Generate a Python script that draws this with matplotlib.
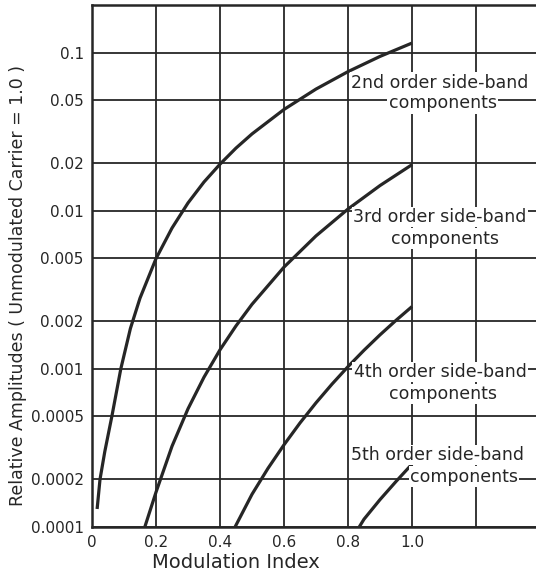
from matplotlib import pyplot as plt
from matplotlib.ticker import NullLocator

# values (modulation index, relative amplitude)
m2 = [0.016, 0.025, 0.04, 0.062, 0.09, 0.12, 0.15, 0.2, 0.25, 0.3, 0.35, 0.4,
      0.45, 0.5, 0.6, 0.7, 0.8, 0.9, 1.0]
a2 = [1.3e-4, 2.0e-4, 3.0e-4, 5.0e-4, 1.0e-3, 1.8e-3, 2.8e-3, 4.98e-3, 7.77e-3,
      0.0112, 0.0152, 0.0197, 0.0249, 0.0306, 0.0437, 0.0588, 0.0758, 0.0946, 0.1149]

m3 = [0.165, 0.2, 0.25, 0.3, 0.35, 0.4, 0.45, 0.5, 0.6, 0.7, 0.8, 0.9, 1.0]
a3 = [1.0e-4, 1.66e-4, 3.24e-4, 5.59e-4, 8.86e-4, 1.32e-3, 1.87e-3, 2.56e-3,
      4.40e-3, 6.93e-3, 0.01025, 0.01443, 0.01956]

m4 = [0.447, 0.5, 0.55, 0.6, 0.65, 0.7, 0.75, 0.8, 0.85, 0.9, 0.95, 1.0]
a4 = [1.0e-4, 1.61e-4, 2.35e-4, 3.31e-4, 4.55e-4, 6.10e-4, 8.01e-4, 1.033e-3,
      1.311e-3, 1.641e-3, 2.027e-3, 2.477e-3]

m5 = [0.835, 0.85, 0.9, 0.95, 1.0]
a5 = [1.0e-4, 1.12e-4, 1.49e-4, 1.94e-4, 2.50e-4]

xticks = [0, 0.2, 0.4, 0.6, 0.8, 1.0, 1.2]
xlabels = ['0', '0.2', '0.4', '0.6', '0.8', '1.0', '']
yticks = [0.0001, 0.0002, 0.0005, 0.001, 0.002, 0.005, 0.01, 0.02, 0.05, 0.1]
ylabels = ['0.0001', '0.0002', '0.0005', '0.001', '0.002', '0.005',
           '0.01', '0.02', '0.05', '0.1']

ink = '#262626'

fig = plt.figure(figsize=(5.36, 5.74), dpi=100)
ax = fig.add_axes([92 / 536, 47 / 574, 444 / 536, 522 / 574])

for m, a in [(m2, a2), (m3, a3), (m4, a4), (m5, a5)]:
    ax.plot(m, a, color=ink, lw=2.3, zorder=3, solid_capstyle='butt')

ax.set_yscale('log')
ax.set_xlim(0, 444 / 320)
ax.set_ylim(1e-4, 0.2)
ax.set_xticks(xticks)
ax.set_xticklabels(xlabels)
ax.set_yticks(yticks)
ax.set_yticklabels(ylabels)
ax.yaxis.set_minor_locator(NullLocator())
ax.tick_params(length=0, labelsize=11, colors=ink, pad=6)
ax.grid(True, color=ink, lw=1.3)
ax.set_axisbelow(True)
ax.spines['right'].set_visible(False)
for s in ['left', 'top', 'bottom']:
    ax.spines[s].set_color(ink)
    ax.spines[s].set_linewidth(1.8)

# curve labels
box = dict(facecolor='white', edgecolor='none', pad=1)
labels = [
    ('2nd order side-band', 0.784, 0.851), ('components', 0.790, 0.812),
    ('3rd order side-band', 0.784, 0.594), ('components', 0.795, 0.552),
    ('4th order side-band', 0.784, 0.297), ('components', 0.790, 0.255),
    ('5th order side-band', 0.779, 0.138), ('components', 0.838, 0.096),
]
for txt, fx, fy in labels:
    ax.text(fx, fy, txt, transform=ax.transAxes, ha='center', va='center',
            fontsize=12.5, color=ink, bbox=box, zorder=4)

fig.text(236 / 536, 1 - 563 / 574, 'Modulation Index', ha='center', va='center',
         fontsize=14, color=ink)
fig.text(18 / 536, 1 - 286 / 574, 'Relative Amplitudes ( Unmodulated Carrier = 1.0 )',
         rotation=90, ha='center', va='center', fontsize=12.5, color=ink)

fig.savefig('out.png', dpi=100)
